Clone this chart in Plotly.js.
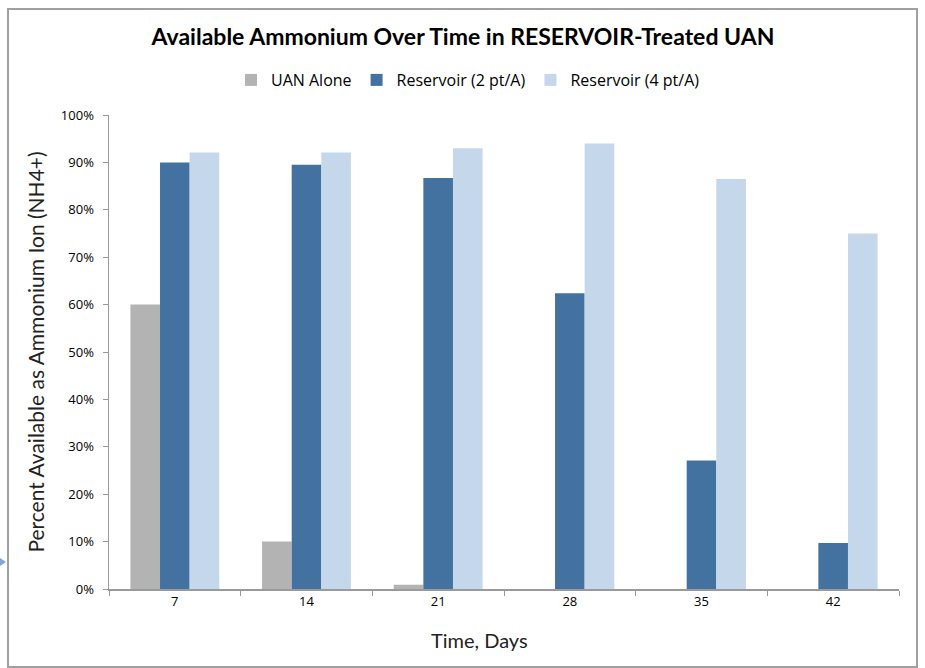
<!DOCTYPE html>
<html>
<head>
<meta charset="utf-8">
<script src="https://cdn.plot.ly/plotly-3.0.1.min.js"></script>
<style>
html,body{margin:0;padding:0;background:#fff;}
#chart{width:925px;height:668px;}
</style>
</head>
<body>
<div id="chart"></div>
<script>
// Data
const days = ["7", "14", "21", "28", "35", "42"];
const uanAlone = [60, 10, 0.9, 0, 0, 0];
const reservoir2 = [90.0, 89.5, 86.7, 62.4, 27.1, 9.7];
const reservoir4 = [92.1, 92.1, 93.0, 94.0, 86.5, 75.0];
const seriesNames = ["UAN Alone", "Reservoir (2 pt/A)", "Reservoir (4 pt/A)"];
const seriesColors = ["#b3b3b3", "#4472a0", "#c5d7eb"];
const xTitle = "Time, Days";
const yTitle = "Percent Available as Ammonium Ion (NH4+)";

const W = 925, H = 668;
const M = {l: 109, r: 26, t: 115, b: 79};
const pw = W - M.l - M.r, ph = H - M.t - M.b;
const px = x => (x - M.l) / pw;
const py = y => (H - M.b - y) / ph;

const traces = [uanAlone, reservoir2, reservoir4].map((vals, i) => ({
  type: "bar",
  x: days,
  y: vals,
  name: seriesNames[i],
  marker: {color: seriesColors[i], line: {width: 0}},
  hoverinfo: "x+y+name"
}));

const layout = {
  width: W, height: H,
  margin: M,
  paper_bgcolor: "#ffffff",
  plot_bgcolor: "#ffffff",
  font: {family: "Open Sans, sans-serif", color: "#000"},
  title: {
    text: "<b>Available Ammonium Over Time in RESERVOIR-Treated UAN</b>",
    font: {family: "Lato, sans-serif", size: 23, color: "#000"},
    x: 463 / W, xref: "container", xanchor: "center",
    y: 1 - 37 / H, yref: "container", yanchor: "middle"
  },
  showlegend: true,
  legend: {
    orientation: "h",
    x: px(468), xanchor: "center",
    y: py(80), yanchor: "middle",
    font: {family: "Open Sans, sans-serif", size: 16, color: "#000"},
    itemwidth: 30,
    traceorder: "normal"
  },
  barmode: "group",
  bargap: 0.325,
  bargroupgap: 0,
  xaxis: {
    type: "category",
    tickson: "boundaries",
    ticks: "outside",
    ticklen: 5,
    tickcolor: "#9a9a9a",
    showline: true,
    linecolor: "#9a9a9a",
    linewidth: 1.5,
    showgrid: false,
    zeroline: false,
    tickfont: {family: "Open Sans, sans-serif", size: 13, color: "#000"},
    title: {text: ""},
    fixedrange: true
  },
  yaxis: {
    range: [0, 100],
    dtick: 10,
    tick0: 0,
    ticksuffix: "%",
    ticks: "outside",
    ticklen: 5,
    tickcolor: "#9a9a9a",
    showline: true,
    linecolor: "#9a9a9a",
    linewidth: 1.5,
    showgrid: false,
    zeroline: false,
    ticklabelstandoff: 6,
    tickfont: {family: "Open Sans, sans-serif", size: 13, color: "#000"},
    title: {text: yTitle, font: {family: "Lato, sans-serif", size: 21, color: "#222"}, standoff: 10},
    fixedrange: true
  },
  annotations: [
    {text: xTitle, xref: "paper", yref: "paper", x: px(479), y: py(640),
     xanchor: "center", yanchor: "middle", showarrow: false,
     font: {family: "Lato, sans-serif", size: 20, color: "#222"}}
  ],
  shapes: [
    {type: "rect", xref: "paper", yref: "paper",
     x0: px(8), x1: px(917), y0: py(667), y1: py(9),
     line: {color: "#a0a0a0", width: 2}, fillcolor: "rgba(0,0,0,0)", layer: "below"},
    {type: "path", xref: "paper", yref: "paper",
     path: `M ${px(0)} ${py(558)} L ${px(6)} ${py(562)} L ${px(0)} ${py(566)} Z`,
     line: {width: 0}, fillcolor: "#7fa9d4"}
  ]
};

Plotly.newPlot("chart", traces, layout, {displayModeBar: false, staticPlot: true});
</script>
</body>
</html>
